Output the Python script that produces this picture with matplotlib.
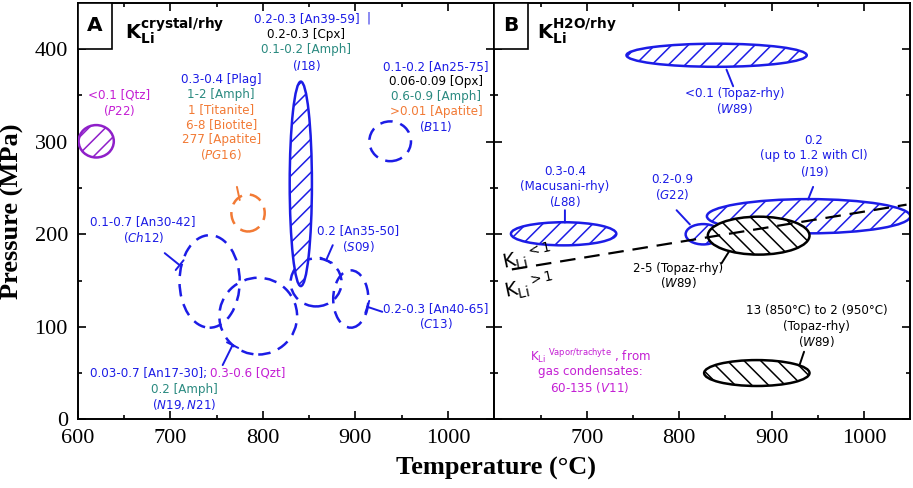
import numpy as np
import matplotlib
matplotlib.use('Agg')
import matplotlib.pyplot as plt
from matplotlib.patches import Ellipse, Rectangle

# colours used in the figure
BLUE = '#1c1ce6'
TEAL = '#2a8a80'
ORANGE = '#f27a35'
MAGENTA = '#c41fd4'
PURPLE = '#8f1fc9'

# panel A, K_Li crystal/rhyolite: T (C) and P (MPa) ranges of each study
a_refs = ['P22', 'I18', 'PG16', 'Ch12', 'N19', 'S09', 'C13', 'B11']
a_tmin = [601, 829, 766, 710, 753, 830, 876, 915]
a_tmax = [639, 853, 802, 775, 837, 885, 914, 960]
a_pmin = [283, 144, 203, 99, 70, 122, 99, 279]
a_pmax = [318, 365, 243, 199, 153, 174, 161, 322]

# panel B, K_Li H2O/rhyolite
b_refs = ['W89a', 'L88', 'I19', 'G22', 'W89b', 'W89c']
b_tmin = [743, 618, 830, 807, 831, 827]
b_tmax = [938, 732, 1050, 845, 941, 941]
b_pmin = [381, 188, 201, 189, 178, 36]
b_pmax = [406, 213, 238, 211, 219, 64]

# K_Li = 1 boundary (panel B)
k1_T = [619, 1046]
k1_P = [162, 232]

x_ticks = [600, 700, 800, 900, 1000]
y_ticks = [0, 100, 200, 300, 400]

# styles: colour, hatch (None = dashed outline)
a_look = {'P22': (PURPLE, '//'), 'I18': (BLUE, '//'), 'PG16': (ORANGE, None),
          'Ch12': (BLUE, None), 'N19': (BLUE, None), 'S09': (BLUE, None),
          'C13': (BLUE, None), 'B11': (BLUE, None)}
b_look = {'W89a': BLUE, 'L88': BLUE, 'I19': BLUE, 'G22': BLUE,
          'W89b': 'black', 'W89c': 'black'}

plt.rcParams['mathtext.fontset'] = 'dejavusans'
plt.rcParams['hatch.linewidth'] = 1.1

FS = 8.6


def blob(ax, t0, t1, p0, p1, color, hatch, z=2):
    if hatch:
        e = Ellipse(((t0 + t1) / 2, (p0 + p1) / 2), t1 - t0, p1 - p0,
                    facecolor='white', edgecolor=color, hatch=hatch, lw=1.8, zorder=z)
    else:
        e = Ellipse(((t0 + t1) / 2, (p0 + p1) / 2), t1 - t0, p1 - p0,
                    fill=False, edgecolor=color, lw=1.8, linestyle=(0, (5, 3.2)), zorder=z)
    ax.add_patch(e)


def stack(ax, x, y, lines, step=16.5, ha='center'):
    for i, (s, c) in enumerate(lines):
        ax.text(x, y - i * step, s, color=c, ha=ha, va='center', fontsize=FS, zorder=6)


def leader(ax, p0, p1, color, bar=True):
    style = '-[, widthB=0.45, lengthB=0' if bar else '-'
    ax.annotate('', xy=p1, xytext=p0,
                arrowprops=dict(arrowstyle=style, color=color, lw=1.4,
                                shrinkA=0, shrinkB=0), zorder=5)


def panel_tag(ax, letter, kstr, kx, w):
    ax.add_patch(Rectangle((0, 0.8895), w, 0.1105, transform=ax.transAxes,
                           facecolor='white', edgecolor='black', lw=1.2, zorder=7, clip_on=False))
    ax.text(w / 2, 0.945, letter, transform=ax.transAxes, ha='center', va='center',
            fontsize=14.5, fontweight='bold', zorder=8)
    ax.text(kx, 411, kstr, ha='left', va='baseline', fontsize=14, zorder=8)


fig = plt.figure(figsize=(9.13, 4.88), dpi=100)
ax1 = fig.add_axes([0.0851, 0.1408, 0.4563, 0.8531])
ax2 = fig.add_axes([0.5414, 0.1408, 0.4556, 0.8531])

for ax in (ax1, ax2):
    ax.set_xlim(600, 1050)
    ax.set_ylim(0, 450)
    ax.set_xticks(x_ticks)
    ax.set_yticks(y_ticks)
    ax.set_xticks(np.arange(650, 1050, 100), minor=True)
    ax.set_yticks(np.arange(50, 450, 100), minor=True)
    ax.tick_params(which='both', direction='in', top=True, right=True, width=1.2)
    ax.tick_params(which='major', length=6, pad=7, labelsize=16,
                   labelfontfamily='Liberation Serif')
    ax.tick_params(which='minor', length=3)
    for s in ax.spines.values():
        s.set_linewidth(1.4)

ax2.set_xticks(x_ticks[1:])
ax2.tick_params(labelleft=False)

# ---- panel A
for i, r in enumerate(a_refs):
    c, h = a_look[r]
    blob(ax1, a_tmin[i], a_tmax[i], a_pmin[i], a_pmax[i], c, h, z=3 if h else 2)

stack(ax1, 847, 433.4, [('0.2-0.3 [An39-59]', BLUE), ('0.2-0.3 [Cpx]', 'black'),
                        ('0.1-0.2 [Amph]', TEAL), (r'($\mathit{I18}$)', BLUE)], step=17)
ax1.text(914, 433.4, '|', color=BLUE, ha='center', va='center', fontsize=FS)
stack(ax1, 644.5, 350.2, [('<0.1 [Qtz]', MAGENTA), (r'($\mathit{P22}$)', MAGENTA)], step=16.2)
stack(ax1, 755, 367.5, [('0.3-0.4 [Plag]', BLUE), ('1-2 [Amph]', TEAL),
                        ('1 [Titanite]', ORANGE), ('6-8 [Biotite]', ORANGE),
                        ('277 [Apatite]', ORANGE), (r'($\mathit{PG16}$)', ORANGE)], step=16.3)
stack(ax1, 987, 380.8, [('0.1-0.2 [An25-75]', BLUE), ('0.06-0.09 [Opx]', 'black'),
                        ('0.6-0.9 [Amph]', TEAL), ('>0.01 [Apatite]', ORANGE),
                        (r'($\mathit{B11}$)', BLUE)], step=16.2)
stack(ax1, 670.7, 213.4, [('0.1-0.7 [An30-42]', BLUE), (r'($\mathit{Ch12}$)', BLUE)], step=16.8)
stack(ax1, 903, 203.7, [('0.2 [An35-50]', BLUE), (r'($\mathit{S09}$)', BLUE)], step=17.3)
stack(ax1, 987, 119.9, [('0.2-0.3 [An40-65]', BLUE), (r'($\mathit{C13}$)', BLUE)], step=16.2)
ax1.text(739.4, 49.7, '0.03-0.7 [An17-30];', color=BLUE, ha='right', va='center', fontsize=FS)
ax1.text(742.6, 49.7, '0.3-0.6 [Qzt]', color=MAGENTA, ha='left', va='center', fontsize=FS)
stack(ax1, 715, 32.4, [('0.2 [Amph]', TEAL), (r'($\mathit{N19,N21}$)', BLUE)], step=16)

leader(ax1, (694, 179.6), (710.1, 166.6), BLUE)
leader(ax1, (756.6, 58.6), (767.3, 80.2), BLUE)
leader(ax1, (875.5, 188.2), (868.4, 172), BLUE)
leader(ax1, (929, 116.2), (912.8, 121.6), BLUE)
leader(ax1, (772, 251.2), (775, 237), ORANGE, bar=False)

panel_tag(ax1, 'A', r'$\mathbf{K}_{\mathbf{Li}}^{\mathbf{crystal/rhy}}$', 651, 0.0824)

# ---- panel B
for i, r in enumerate(b_refs):
    blob(ax2, b_tmin[i], b_tmax[i], b_pmin[i], b_pmax[i], b_look[r], '\\\\' if b_look[r] == 'black' else '//',
         z=3 if b_look[r] == 'black' else 2)

ax2.plot(k1_T, k1_P, color='black', lw=1.6, dashes=(7, 4), zorder=4)
ax2.text(606, 175, r'$\mathrm{K}_{\mathrm{Li}}{}^{<1}$', rotation=12, ha='left', va='center', fontsize=14)
ax2.text(608, 144, r'$\mathrm{K}_{\mathrm{Li}}{}^{>1}$', rotation=12, ha='left', va='center', fontsize=14)

stack(ax2, 860, 352, [('<0.1 (Topaz-rhy)', BLUE), (r'($\mathit{W89}$)', BLUE)], step=16.4)
stack(ax2, 676.4, 267.4, [('0.3-0.4', BLUE), ('(Macusani-rhy)', BLUE),
                          (r'($\mathit{L88}$)', BLUE)], step=16.2)
stack(ax2, 792.4, 259.5, [('0.2-0.9', BLUE), (r'($\mathit{G22}$)', BLUE)], step=16.5)
stack(ax2, 946, 301.6, [('0.2', BLUE), ('(up to 1.2 with Cl)', BLUE),
                        (r'($\mathit{I19}$)', BLUE)], step=16.8)
stack(ax2, 799, 163, [('2-5 (Topaz-rhy)', 'black'), (r'($\mathit{W89}$)', 'black')], step=15)
stack(ax2, 948.5, 117.3, [('13 (850°C) to 2 (950°C)', 'black'), ('(Topaz-rhy)', 'black'),
                          (r'($\mathit{W89}$)', 'black')], step=16.7)
stack(ax2, 703.5, 68.7, [(r'K$_{\rm Li}{}^{\rm\ Vapor/trachyte}$ , from', MAGENTA),
                         ('gas condensates:', MAGENTA),
                         (r'60-135 ($\mathit{V11}$)', MAGENTA)], step=16.9)

leader(ax2, (851.2, 378), (858.4, 360), BLUE, bar=False)
leader(ax2, (676.4, 212.7), (676.4, 226), BLUE, bar=False)
leader(ax2, (811.6, 210.6), (797.2, 226), BLUE, bar=False)
leader(ax2, (939.5, 237.6), (944.9, 251.2), BLUE, bar=False)
leader(ax2, (853.7, 181), (845.8, 168.5), 'black', bar=False)
leader(ax2, (930.5, 59.4), (935.1, 73), 'black', bar=False)

panel_tag(ax2, 'B', r'$\mathbf{K}_{\mathbf{Li}}^{\mathbf{H2O/rhy}}$', 646, 0.080)

fig.text(0.014, 0.5676, 'Pressure (MPa)', rotation=90, ha='center', va='center',
         fontsize=19, fontweight='bold', family='Liberation Serif')
fig.text(0.543, 0.041, 'Temperature (°C)', ha='center', va='center',
         fontsize=19, fontweight='bold', family='Liberation Serif')

fig.savefig('out.png', dpi=100)
